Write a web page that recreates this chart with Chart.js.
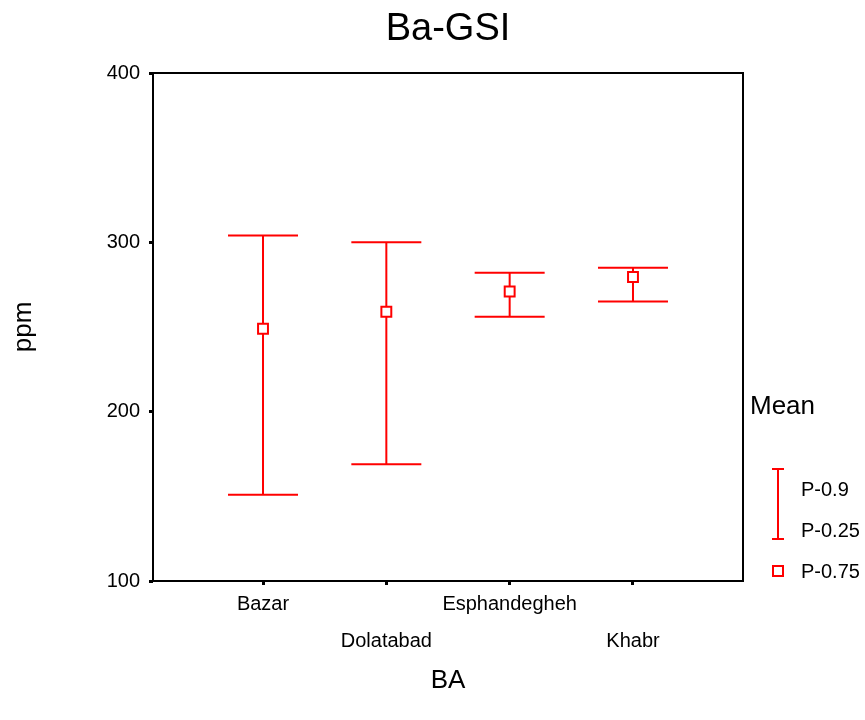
<!DOCTYPE html>
<html>
<head>
<meta charset="utf-8">
<title>Ba-GSI</title>
<script src="https://cdn.jsdelivr.net/npm/chart.js@4.4.1/dist/chart.umd.min.js"></script>
<style>
    html, body { margin: 0; padding: 0; background: #fff; }
    #wrap { width: 865px; height: 720px; }
</style>
</head>
<body>
<div id="wrap"><canvas id="ba-chart" width="865" height="720"></canvas></div>
<script>
// ------------------------------------------------------
// @Data
// ------------------------------------------------------

const sites   = ['Bazar', 'Dolatabad', 'Esphandegheh', 'Khabr'];
const p90     = [304, 300, 282, 285];
const p25     = [151, 169, 256, 265];
const p75     = [249, 259, 271, 279.5];
const yTicks  = [100, 200, 300, 400];

const RED   = '#ff0000';
const BLACK = '#000000';
const FONT  = '"Liberation Sans", Arial, sans-serif';

Chart.defaults.font.family = FONT;
Chart.defaults.color = BLACK;

// whiskers: hi -> lo per site, null breaks the line between sites
const whiskers = [];
sites.forEach((s, i) => {
    whiskers.push({ x: i, y: p90[i] });
    whiskers.push({ x: i, y: p25[i] });
    whiskers.push({ x: i, y: null });
});

const means = sites.map((s, i) => ({ x: i, y: p75[i] }));

// ------------------------------------------------------
// @Frame + legend
// ------------------------------------------------------

const framePlugin = {
    id: 'frame',
    afterDraw(chart) {
        const { ctx, chartArea } = chart;
        const { left, top, right, bottom } = chartArea;

        ctx.save();
        ctx.strokeStyle = BLACK;
        ctx.lineWidth = 2;
        ctx.strokeRect(left, top, right - left, bottom - top);

        // legend block to the right of the plot
        const lx = right + 35;
        ctx.fillStyle = BLACK;
        ctx.textBaseline = 'middle';
        ctx.textAlign = 'left';
        ctx.font = '26px ' + FONT;
        ctx.fillText('Mean', right + 7, 407);

        ctx.strokeStyle = RED;
        ctx.lineWidth = 2;
        ctx.beginPath();
        ctx.moveTo(lx, 469);
        ctx.lineTo(lx, 539);
        ctx.moveTo(lx - 6, 469);
        ctx.lineTo(lx + 6, 469);
        ctx.moveTo(lx - 6, 539);
        ctx.lineTo(lx + 6, 539);
        ctx.stroke();

        ctx.fillStyle = '#fff';
        ctx.fillRect(lx - 5, 566, 10, 10);
        ctx.strokeRect(lx - 5, 566, 10, 10);

        ctx.fillStyle = BLACK;
        ctx.font = '20px ' + FONT;
        ctx.fillText('P-0.9', lx + 23, 490);
        ctx.fillText('P-0.25', lx + 23, 531);
        ctx.fillText('P-0.75', lx + 23, 572);
        ctx.restore();
    },
};

// ------------------------------------------------------
// @Chart
// ------------------------------------------------------

new Chart(document.getElementById('ba-chart').getContext('2d'), {
    type: 'scatter',
    data: {
        datasets: [{
            label            : 'P-0.75',
            data             : means,
            pointStyle       : 'rect',
            pointRadius      : 7,
            pointHoverRadius : 7,
            borderColor      : RED,
            backgroundColor  : '#ffffff',
            borderWidth      : 2,
        }, {
            label            : 'P-0.9 / P-0.25',
            data             : whiskers,
            showLine         : true,
            spanGaps         : false,
            pointStyle       : 'line',
            pointRadius      : 35,
            pointHoverRadius : 35,
            borderColor      : RED,
            backgroundColor  : RED,
            borderWidth      : 2,
        }],
    },
    options: {
        responsive: false,
        animation: false,
        events: [],
        layout: {
            padding: { left: 0, right: 122, top: 0, bottom: 0 },
        },
        plugins: {
            legend: { display: false },
            tooltip: { enabled: false },
            title: {
                display: true,
                fullSize: false,
                text: 'Ba-GSI',
                color: BLACK,
                font: { size: 38, weight: 'normal' },
                padding: { top: 7, bottom: 20.4 },
            },
        },
        scales: {
            x: {
                type: 'linear',
                min: -0.892,
                max: 3.892,
                afterBuildTicks: (scale) => {
                    scale.ticks = sites.map((s, i) => ({ value: i }));
                },
                afterFit: (scale) => { scale.height = 139; },
                border: { display: false },
                grid: {
                    drawOnChartArea: false,
                    drawTicks: true,
                    tickLength: 4,
                    lineWidth: 3,
                    color: BLACK,
                },
                ticks: {
                    autoSkip: false,
                    minRotation: 0,
                    maxRotation: 0,
                    padding: 1,
                    color: BLACK,
                    font: { size: 20, lineHeight: 1.85 },
                    callback: (value) => (value % 2 ? ['', sites[value]] : sites[value]),
                },
                title: {
                    display: true,
                    text: 'BA',
                    color: BLACK,
                    font: { size: 26 },
                    padding: { top: 0, bottom: 23.4 },
                },
            },
            y: {
                type: 'linear',
                min: 100,
                max: 400,
                afterBuildTicks: (scale) => {
                    scale.ticks = yTicks.map((v) => ({ value: v }));
                },
                afterFit: (scale) => { scale.width = 153; },
                border: { display: false },
                grid: {
                    drawOnChartArea: false,
                    drawTicks: true,
                    tickLength: 4,
                    lineWidth: 3,
                    color: BLACK,
                },
                ticks: {
                    padding: 9,
                    color: BLACK,
                    font: { size: 20 },
                },
                title: {
                    display: true,
                    text: 'ppm',
                    color: BLACK,
                    font: { size: 26 },
                    padding: { top: 8.4, bottom: 0 },
                },
            },
        },
    },
    plugins: [framePlugin],
});
</script>
</body>
</html>
